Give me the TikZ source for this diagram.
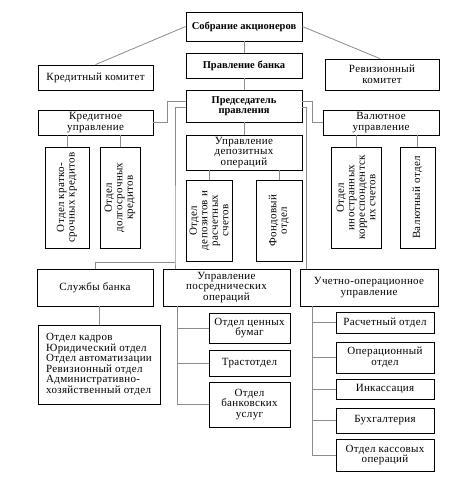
\documentclass[tikz,border=0pt]{standalone}
\usepackage{fontspec}
\setmainfont{Liberation Serif}[LetterSpace=3]
\usepackage{tikz}
\usetikzlibrary{positioning}
\definecolor{linegray}{rgb}{0.55, 0.55, 0.55}

\begin{document}
\begin{tikzpicture}[x=1pt, y=-1pt,
    box/.style={draw, line width=0.8pt, align=center, inner sep=1pt, font=\fontsize{11}{10.5}\selectfont},
    boldbox/.style={box, font=\fontsize{10.5}{10.5}\selectfont\bfseries\addfontfeature{LetterSpace=0}},
    vbox/.style={box, rotate=90},
    conn/.style={linegray, line width=0.8pt}]
	\useasboundingbox (0,0) rectangle (474,479);
	% top levels
	\node[boldbox, minimum width=116pt, minimum height=29pt] (sobr) at (244,26.5) {Собрание акционеров};
	\node[boldbox, minimum width=116pt, minimum height=25pt] (pravl) at (244,65.5) {Правление банка};
	\node[box, minimum width=115pt, minimum height=25pt] (kredkom) at (95.5,77.5) {Кредитный комитет};
	\node[box, minimum width=114pt, minimum height=31pt] (revkom) at (382,74.5) {Ревизионный\\комитет};
	\node[boldbox, minimum width=116pt, minimum height=32pt] (pred) at (244,106) {Председатель\\правления};
	\node[box, minimum width=115pt, minimum height=25pt] (kredupr) at (95.5,122.5) {Кредитное\\управление};
	\node[box, minimum width=116pt, minimum height=25pt] (valupr) at (381,122.5) {Валютное\\управление};
	\node[box, minimum width=116pt, minimum height=35pt] (depupr) at (244,152.5) {Управление\\депозитных\\операций};
	% vertical departments
	\node[vbox, minimum width=101pt, minimum height=44pt] (kratk) at (67,197.5) {Отдел кратко-\\срочных кредитов};
	\node[vbox, minimum width=101pt, minimum height=40pt] (dolg) at (120,197.5) {Отдел\\долгосрочных\\кредитов};
	\node[vbox, minimum width=81pt, minimum height=46pt] (depoz) at (209,220.5) {Отдел\\депозитов и\\расчетных\\счетов};
	\node[vbox, minimum width=81pt, minimum height=46pt] (fond) at (279,220.5) {Фондовый\\отдел};
	\node[vbox, minimum width=101pt, minimum height=50pt] (inostr) at (356,197.5) {Отдел\\иностранных\\корреспондентск\\их счетов};
	\node[vbox, minimum width=101pt, minimum height=35pt] (valotd) at (417.5,197.5) {Валютный отдел};
	% lower row
	\node[box, minimum width=116pt, minimum height=37pt] (sluzhby) at (95,287.5) {Службы банка};
	\node[box, minimum width=127pt, minimum height=37pt] (posr) at (226.5,287.5) {Управление\\посреднических\\операций};
	\node[box, minimum width=138pt, minimum height=37pt] (uchet) at (369,287.5) {Учетно-операционное\\управление};
	\node[box, align=left, minimum width=122pt, minimum height=79pt] (otdely) at (99,364.5) {Отдел кадров\\Юридический отдел\\Отдел автоматизации\\Ревизионный отдел\\Административно-\\хозяйственный отдел};
	\node[box, minimum width=81pt, minimum height=30pt] (cenbum) at (249.5,328) {Отдел ценных\\бумаг};
	\node[box, minimum width=81pt, minimum height=26pt] (trast) at (249.5,363) {Трастотдел};
	\node[box, minimum width=81pt, minimum height=45pt] (uslug) at (249.5,404.5) {Отдел\\банковских\\услуг};
	\node[box, minimum width=98pt, minimum height=21pt] (raschet) at (385,322.5) {Расчетный отдел};
	\node[box, minimum width=98pt, minimum height=31pt] (operac) at (385,357.5) {Операционный\\отдел};
	\node[box, minimum width=98pt, minimum height=20pt] (inkas) at (385,389) {Инкассация};
	\node[box, minimum width=98pt, minimum height=25pt] (buhg) at (385,420.5) {Бухгалтерия};
	\node[box, minimum width=98pt, minimum height=32pt] (kass) at (385,455) {Отдел кассовых\\операций};
	% connectors
	\draw[conn] (sobr.west) -- (kredkom.north);
	\draw[conn] (sobr.east) -- ([xshift=-2pt]revkom.north);
	\draw[conn] (sobr.south) -- (pravl.north);
	\draw[conn] (pravl.south) -- (pred.north);
	\draw[conn] (pred.south) -- (depupr.north);
	\draw[conn] ([yshift=5pt]pred.west) -- ++(-18,0) |- (kredupr.east);
	\draw[conn] ([yshift=5pt]pred.east) -- ++(10,0) |- (valupr.west);
	\coordinate (split) at (175,262);
	\draw[conn] ([yshift=-1pt]pred.west) -| (split) -- (split |- posr.north);
	\draw[conn] (split) -| (sluzhby.north);
	\draw[conn] ([yshift=-1pt]pred.east) -| ([xshift=7pt]uchet.north west);
	\foreach \n in {kratk, dolg}
		\draw[conn] (\n.east |- kredupr.south) -- (\n.east);
	\foreach \n in {depoz, fond}
		\draw[conn] (\n.east |- depupr.south) -- (\n.east);
	\foreach \n in {inostr, valotd}
		\draw[conn] (\n.east |- valupr.south) -- (\n.east);
	\draw[conn] (otdely.north |- sluzhby.south) -- (otdely.north);
	\coordinate (posrdown) at ([xshift=15pt]posr.south west);
	\foreach \n in {cenbum, trast, uslug}
		\draw[conn] (posrdown) |- (\n.west);
	\coordinate (uchetdown) at ([xshift=13pt]uchet.south west);
	\foreach \n in {raschet, operac, inkas, buhg, kass}
		\draw[conn] (uchetdown) |- (\n.west);
\end{tikzpicture}
\end{document}
